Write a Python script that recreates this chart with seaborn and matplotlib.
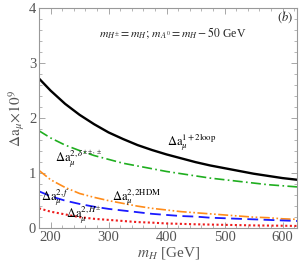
#!/usr/bin/env python3
# coding: utf-8
import pandas as pd
import seaborn as sns
import matplotlib.pyplot as plt
from matplotlib.ticker import MultipleLocator

# ------------------------------------------------
# Data
# ------------------------------------------------
m_H = [180, 200, 225, 250, 275, 300, 325, 350, 375, 400,
       425, 450, 475, 500, 525, 550, 575, 600, 625]
total_1p2loop = [2.72, 2.50, 2.26, 2.06, 1.89, 1.74, 1.62, 1.51, 1.42, 1.34,
                 1.27, 1.20, 1.14, 1.09, 1.04, 0.99, 0.95, 0.91, 0.88]
delta_ppp = [1.77, 1.64, 1.51, 1.41, 1.32, 1.25, 1.18, 1.13, 1.08, 1.03,
             0.99, 0.95, 0.91, 0.88, 0.85, 0.82, 0.79, 0.77, 0.75]
two_hdm = [1.05, 0.88, 0.74, 0.63, 0.56, 0.50, 0.45, 0.40, 0.36, 0.33,
           0.30, 0.28, 0.26, 0.24, 0.22, 0.20, 0.19, 0.17, 0.16]
fermion = [0.67, 0.58, 0.50, 0.44, 0.39, 0.35, 0.32, 0.29, 0.26, 0.24,
           0.22, 0.21, 0.19, 0.18, 0.17, 0.16, 0.15, 0.14, 0.13]
charged_h = [0.36, 0.30, 0.25, 0.20, 0.17, 0.15, 0.13, 0.11, 0.10, 0.085,
             0.078, 0.07, 0.065, 0.06, 0.055, 0.05, 0.047, 0.044, 0.04]

series = [
    (total_1p2loop, "black", None, 1.7),
    (delta_ppp, "#1fae1f", (6, 2, 1, 2), 1.2),
    (two_hdm, "#ff8c1a", (6, 1.5, 1, 1.5, 1, 1.5), 1.2),
    (fermion, "#1a1aff", (6, 3), 1.3),
    (charged_h, "#ee1c1c", (1, 1.2), 1.5),
]

# ------------------------------------------------
# Plot
# ------------------------------------------------
sns.set_style("ticks")
plt.rcParams['font.family'] = ['Liberation Serif', 'DejaVu Serif']
plt.rcParams['mathtext.fontset'] = 'stix'

fig, ax = plt.subplots(figsize=(3.0, 2.7), dpi=100)
fig.subplots_adjust(left=0.13, right=0.99, bottom=0.155, top=0.97)

for vals, col, dash, lw in series:
    df = pd.DataFrame({'mH': m_H, 'da': vals})
    sns.lineplot(x='mH', y='da', data=df, ax=ax, color=col, linewidth=lw)
    if dash is not None:
        ax.lines[-1].set_dashes(dash)

ax.set_xlim(180, 625)
ax.set_ylim(0, 4)
ax.xaxis.set_major_locator(MultipleLocator(100))
ax.xaxis.set_minor_locator(MultipleLocator(20))
ax.yaxis.set_major_locator(MultipleLocator(1))
ax.yaxis.set_minor_locator(MultipleLocator(0.2))
ax.tick_params(which='both', direction='in', top=True, right=True,
               colors='#999999', labelcolor='#555555', labelsize=10.5, pad=2)
ax.tick_params(which='major', length=4, width=0.6)
ax.tick_params(which='minor', length=2, width=0.5)
for sp in ax.spines.values():
    sp.set_color('#999999')
    sp.set_linewidth(0.8)

ax.set_xlabel(r'$m_H$ [GeV]', fontsize=11, color='#555555', labelpad=1)
ax.set_ylabel(r'$\Delta\mathrm{a}_\mu\!\times\!10^9$', fontsize=11, color='#555555', labelpad=1)

# curve labels
lab = dict(fontsize=9, color='black', va='baseline')
ax.text(401, 1.50, r'$\Delta\mathrm{a}_\mu^{1+2\mathrm{loop}}$', **lab)
ax.text(208, 1.20, r'$\Delta\mathrm{a}_\mu^{2,\delta^{\pm\pm,\pm}}$', **lab)
ax.text(306, 0.51, r'$\Delta\mathrm{a}_\mu^{2,2\mathrm{HDM}}$', **lab)
ax.text(183, 0.51, r'$\Delta\mathrm{a}_\mu^{2,f}$', **lab)
ax.text(226, 0.18, r'$\Delta\mathrm{a}_\mu^{2,H^{\pm}}$', **lab)

ax.text(0.52, 0.885, r'$m_{H^{\pm}}=m_H;\, m_{A^0}=m_H-50$ GeV', transform=ax.transAxes,
        ha='center', va='center', fontsize=8.5)
ax.text(0.985, 0.96, r'$(b)$', transform=ax.transAxes, ha='right', va='center', fontsize=9)

plt.savefig("out.png", dpi=100)
plt.close(fig)
